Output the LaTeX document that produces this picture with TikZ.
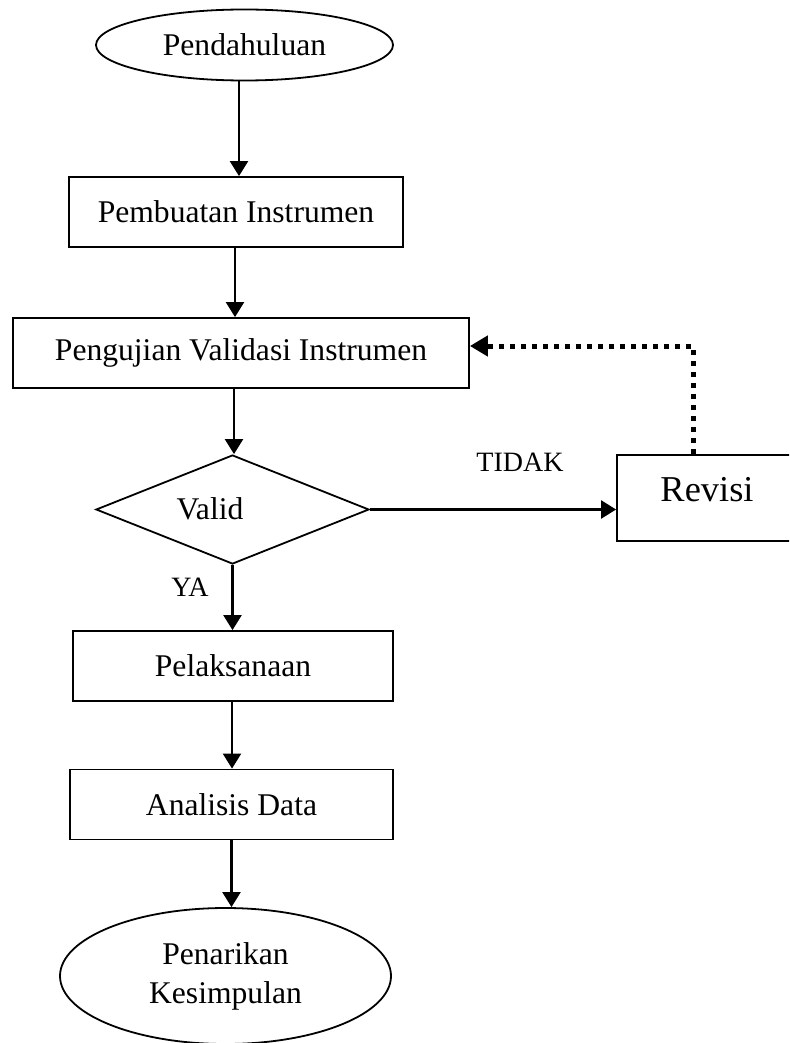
\documentclass[tikz,border=0pt]{standalone}
\usepackage{fontspec}
\setmainfont{Liberation Serif}
\usetikzlibrary{shapes.geometric,arrows.meta}
\begin{document}
\begin{tikzpicture}[x=1pt,y=-1pt,
  every node/.style={inner sep=0pt, font=\fontsize{31.6}{39}\selectfont},
  stepbox/.style={draw, line width=1.8pt, rectangle, minimum height=70pt},
  oval/.style={draw, line width=1.8pt, ellipse},
  arr/.style={line width=2.2pt, -{Triangle[length=15pt,width=18pt]}},
  dotarr/.style={line width=5pt, dash pattern=on 5pt off 6pt, -{Triangle[length=18pt,width=20pt]}},
  lbl/.style={font=\fontsize{28}{34}\selectfont}
]
\clip (0,0) rectangle (789,1043);
\node[oval, minimum width=297pt, minimum height=71pt] (pend) at (244.5,45) {Pendahuluan};
\node[stepbox, minimum width=334pt] (pemb) at (236,212) {Pembuatan Instrumen};
\node[stepbox, minimum width=456pt] (peng) at (241,353) {Pengujian Validasi Instrumen};
\node[draw, line width=1.8pt, diamond, minimum width=273pt, minimum height=109pt] (dia) at (232.5,509.5) {};
\node (valid) at (210,509) {Valid};
\node[stepbox, minimum width=178pt, minimum height=86pt] (rev) at (706,498) {};
\node[font=\fontsize{36.4}{44}\selectfont] (revt) at (707,490) {Revisi};
\node[stepbox, minimum width=320pt] (pel) at (233,666) {Pelaksanaan};
\node[stepbox, minimum width=323pt] (ana) at (231.5,804.5) {Analisis Data};
\node[oval, minimum width=331pt, minimum height=136pt, align=center] (pen) at (225.5,976) {Penarikan\\Kesimpulan};
\node[lbl] (tidak) at (520,462) {TIDAK};
\node[lbl] (ya) at (190,587) {YA};

\draw[arr] ([xshift=-5.5pt]pend.south) -- ([xshift=-5.5pt]pend.south |- pemb.north);
\draw[arr] ([xshift=-1pt]pemb.south) -- ([xshift=-1pt]pemb.south |- peng.north);
\draw[arr] ([xshift=-7pt]peng.south) -- ([xshift=-7pt]peng.south |- dia.north);
\draw[arr] (dia.east) -- (dia.east -| rev.west);
\draw[arr] (dia.south) -- (dia.south |- pel.north);
\draw[arr] ([xshift=-1pt]pel.south) -- ([xshift=-1pt]pel.south |- ana.north);
\draw[arr] (ana.south) -- (ana.south |- pen.north);
\draw[dotarr] ([xshift=-13pt]rev.north) |- ([yshift=7pt]peng.east);
\end{tikzpicture}
\end{document}
